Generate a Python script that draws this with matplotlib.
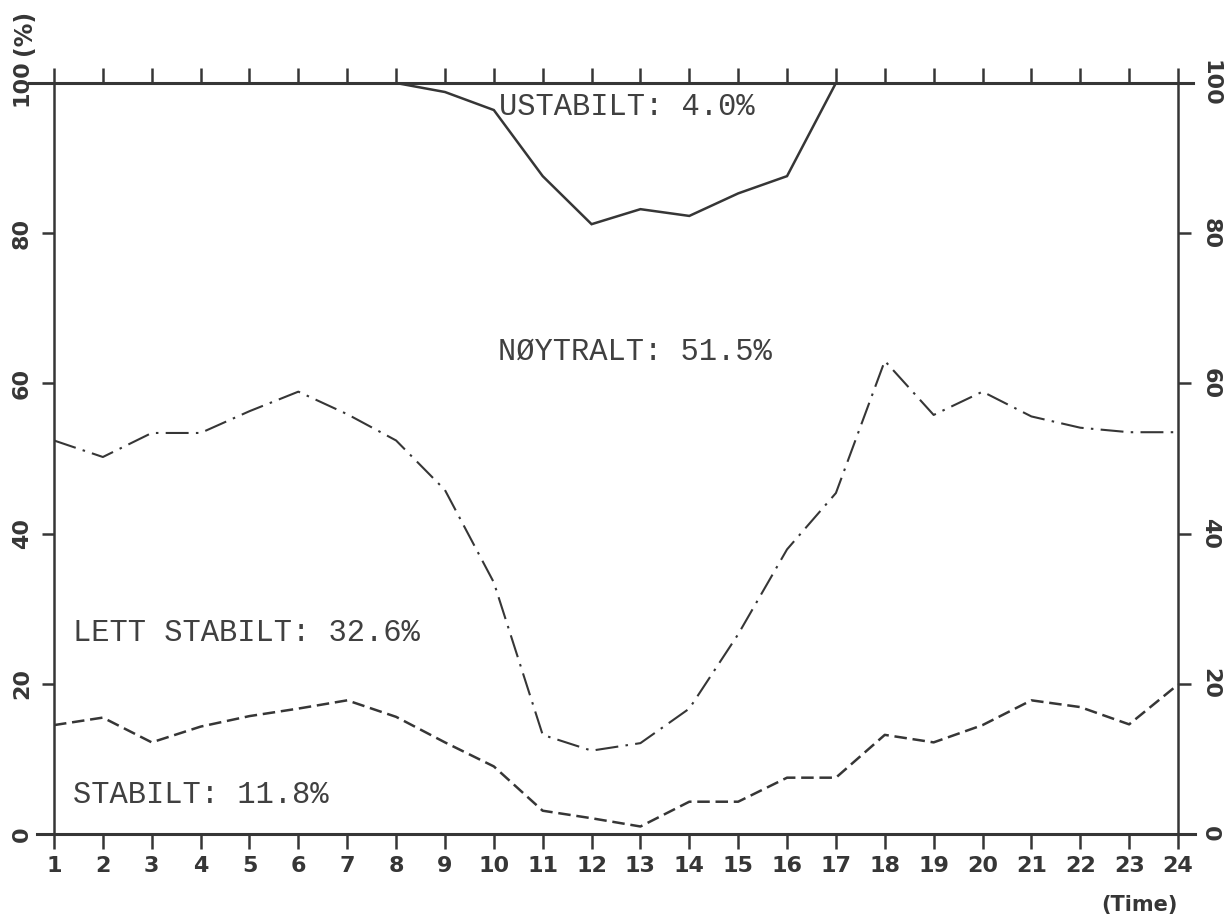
import matplotlib
matplotlib.use("Agg")
import matplotlib.pyplot as plt

hours = list(range(1, 25))
# Cumulative boundaries (%)
stabilt = [14.5, 15.5, 12.2, 14.3, 15.7, 16.7, 17.8, 15.6, 12.2, 9.0, 3.1, 2.1,
           1.0, 4.3, 4.3, 7.5, 7.5, 13.2, 12.2, 14.5, 17.8, 16.9, 14.6, 19.9]
lett_stabilt = [52.4, 50.2, 53.4, 53.4, 56.3, 58.9, 55.9, 52.4, 45.8, 33.5, 13.2, 11.1,
                12.1, 16.7, 26.6, 37.9, 45.4, 63.0, 55.8, 58.9, 55.6, 54.1, 53.5, 53.5]
noytralt = [100, 100, 100, 100, 100, 100, 100, 100, 98.8, 96.4, 87.6, 81.2,
            83.2, 82.3, 85.3, 87.6, 100, 100, 100, 100, 100, 100, 100, 100]
y_ticks = [0, 20, 40, 60, 80, 100]
labels = ["USTABILT: 4.0%", "NØYTRALT: 51.5%", "LETT STABILT: 32.6%", "STABILT: 11.8%"]

ink = "#363636"
fig = plt.figure(figsize=(12.3, 9.16), dpi=100)
ax = fig.add_axes([54/1230, 82/916, (1178-54)/1230, (834-83)/916])
ax.set_xlim(1, 24)
ax.set_ylim(0, 100)

ax.plot(hours, noytralt, color=ink, lw=1.8, solid_joinstyle="miter")
ax.plot(hours, lett_stabilt, color=ink, lw=1.5, linestyle=(0, (11, 3.5, 1.2, 3.5)))
ax.plot(hours, stabilt, color=ink, lw=1.8, linestyle=(0, (5, 2.3)))

for s in ax.spines.values():
    s.set_color(ink)
    s.set_linewidth(1.8)
ax.spines["top"].set_visible(False)
ax.spines["bottom"].set_visible(False)
ax.axhline(100, xmin=-0.022, xmax=1.013, color=ink, lw=2.2, clip_on=False)
ax.axhline(0, xmin=-0.015, xmax=1.015, color=ink, lw=2.2, clip_on=False)

tickfont = dict(family="DejaVu Sans", fontsize=16, color=ink, fontweight="bold")
ax.set_xticks(hours)
ax.set_xticklabels([str(h) for h in hours], **tickfont)
ax.tick_params(axis="x", which="both", direction="out", length=11, width=1.8,
               color=ink, pad=5, top=True, bottom=True, labeltop=False)
ax.set_yticks(y_ticks)
ax.set_yticklabels([str(v) for v in y_ticks], rotation=90, va="center", **tickfont)
ax.tick_params(axis="y", which="both", direction="out", length=9, width=1.8,
               color=ink, pad=7, left=True, right=True, labelright=True)
for tick in ax.yaxis.get_major_ticks():
    tick.label2.set_rotation(-90)
    tick.label2.set_va("center")
    tick.label2.set_fontweight("bold")
    tick.label2.set_fontsize(16)

mono = dict(family="Liberation Mono", fontsize=22, color="#404040", va="center")
ax.text(10.1, 96.8, labels[0], **mono)
ax.text(10.08, 64.2, labels[1], **mono)
ax.text(1.38, 26.8, labels[2], **mono)
ax.text(1.38, 5.2, labels[3], **mono)

fig.text(24/1230, 1 - 32/916, "(%)", rotation=90, ha="center", va="center",
         fontsize=17, color=ink, family="DejaVu Sans", fontweight="bold")
fig.text(1178/1230, 1 - 905/916, "(Time)", ha="right", va="center",
         fontsize=15, color=ink, family="DejaVu Sans", fontweight="bold")

fig.savefig("out.png", dpi=100, facecolor="white")
